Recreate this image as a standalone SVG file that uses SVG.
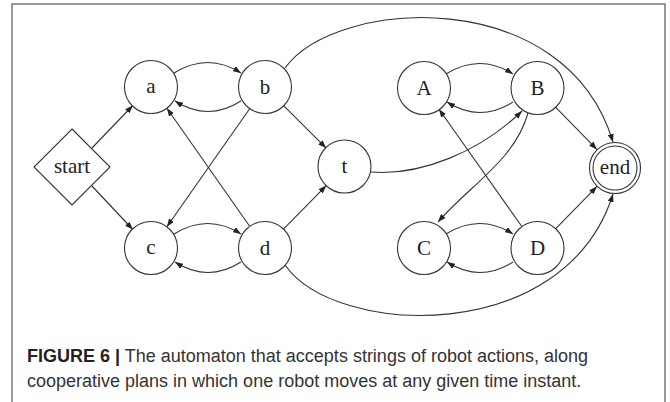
<svg xmlns="http://www.w3.org/2000/svg" width="670" height="402" viewBox="0 0 670 402">
  <defs>
    <marker id="arrow" markerUnits="userSpaceOnUse" markerWidth="9" markerHeight="6" refX="8" refY="3" orient="auto">
      <path d="M0,0 L8,3 L0,6 z" fill="#222"/>
    </marker>
    <style>
      .node circle, .node polygon { fill: #fff; stroke: #333; stroke-width: 1.1; }
      .node text { font-family: "Liberation Serif", "Times New Roman", serif; font-size: 21px; fill: #222; text-anchor: middle; }
      .edge { fill: none; stroke: #333; stroke-width: 1.1; marker-end: url(#arrow); }
      .caption { font-family: "Liberation Sans", Arial, sans-serif; font-size: 18px; fill: #333; }
      .caption .label { font-weight: bold; fill: #222; }
    </style>
  </defs>
  <rect width="670" height="402" fill="#fff"/>
  <!-- panel frame, open at the bottom -->
  <path d="M12,402 L12,4 L665,4 L665,402" fill="none" stroke="#777" stroke-width="1.5"/>

  <g id="connectors">
    <!-- start -->
    <line class="edge" x1="92" y1="148" x2="132.8" y2="105.5"/>
    <line class="edge" x1="92" y1="186" x2="132.8" y2="229.5"/>
    <!-- a <-> b -->
    <path class="edge" d="M174,73 Q208,52 241,73"/>
    <path class="edge" d="M241,101 Q208,122 175,101"/>
    <!-- c <-> d -->
    <path class="edge" d="M174,234 Q208,213 241,234"/>
    <path class="edge" d="M241,262 Q208,283 175,262"/>
    <!-- crossing links -->
    <line class="edge" x1="250" y1="108.3" x2="166.9" y2="226.7"/>
    <line class="edge" x1="250" y1="226.7" x2="166.9" y2="108.3"/>
    <!-- into t -->
    <line class="edge" x1="283.4" y1="105.4" x2="326.1" y2="148.1"/>
    <line class="edge" x1="283.2" y1="229.4" x2="326.3" y2="185.6"/>
    <!-- t to B -->
    <path class="edge" d="M371,172 C420,176 480,152 522,111"/>
    <!-- A <-> B -->
    <path class="edge" d="M446,74 Q480,53 513,74"/>
    <path class="edge" d="M513,102 Q480,123 447,102"/>
    <!-- C <-> D -->
    <path class="edge" d="M446,234 Q480,213 513,234"/>
    <path class="edge" d="M513,262 Q480,283 447,262"/>
    <!-- B to C, D to A -->
    <path class="edge" d="M528,113 C515,160 470,185 438,222"/>
    <line class="edge" x1="522" y1="226.8" x2="439" y2="109.2"/>
    <!-- into end -->
    <line class="edge" x1="555" y1="106.6" x2="596.9" y2="149.4"/>
    <line class="edge" x1="555" y1="229.4" x2="596.9" y2="186.6"/>
    <path class="edge" d="M285,68 C335,-2 565,-17 613,142"/>
    <path class="edge" d="M285,265 C335,337 565,347 613,194"/>
  </g>

  <g id="node-start" class="node">
    <polygon points="72,129 110,167 72,205 34,167"/>
    <text x="72" y="173">start</text>
  </g>
  <g id="node-a" class="node">
    <circle cx="151" cy="87" r="26.5"/>
    <text x="151" y="93">a</text>
  </g>
  <g id="node-b" class="node">
    <circle cx="265" cy="87" r="26.5"/>
    <text x="265" y="94">b</text>
  </g>
  <g id="node-c" class="node">
    <circle cx="151" cy="248" r="26.5"/>
    <text x="151" y="254">c</text>
  </g>
  <g id="node-d" class="node">
    <circle cx="265" cy="248" r="26.5"/>
    <text x="265" y="255">d</text>
  </g>
  <g id="node-t" class="node">
    <circle cx="344.5" cy="166.5" r="26.5"/>
    <text x="344.5" y="173">t</text>
  </g>
  <g id="node-A" class="node">
    <circle cx="424" cy="88" r="26.5"/>
    <text x="424" y="95">A</text>
  </g>
  <g id="node-B" class="node">
    <circle cx="537.5" cy="88" r="26.5"/>
    <text x="537.5" y="95">B</text>
  </g>
  <g id="node-C" class="node">
    <circle cx="424" cy="248" r="26.5"/>
    <text x="424" y="255">C</text>
  </g>
  <g id="node-D" class="node">
    <circle cx="537.5" cy="248" r="26.5"/>
    <text x="537.5" y="255">D</text>
  </g>
  <g id="node-end" class="node">
    <circle cx="615" cy="168" r="25.5"/>
    <circle cx="615" cy="168" r="22"/>
    <text x="615" y="174">end</text>
  </g>

  <g id="caption" class="caption">
    <text x="27" y="362"><tspan class="label">FIGURE 6 |</tspan> The automaton that accepts strings of robot actions, along</text>
    <text x="27" y="387">cooperative plans in which one robot moves at any given time instant.</text>
  </g>
</svg>
